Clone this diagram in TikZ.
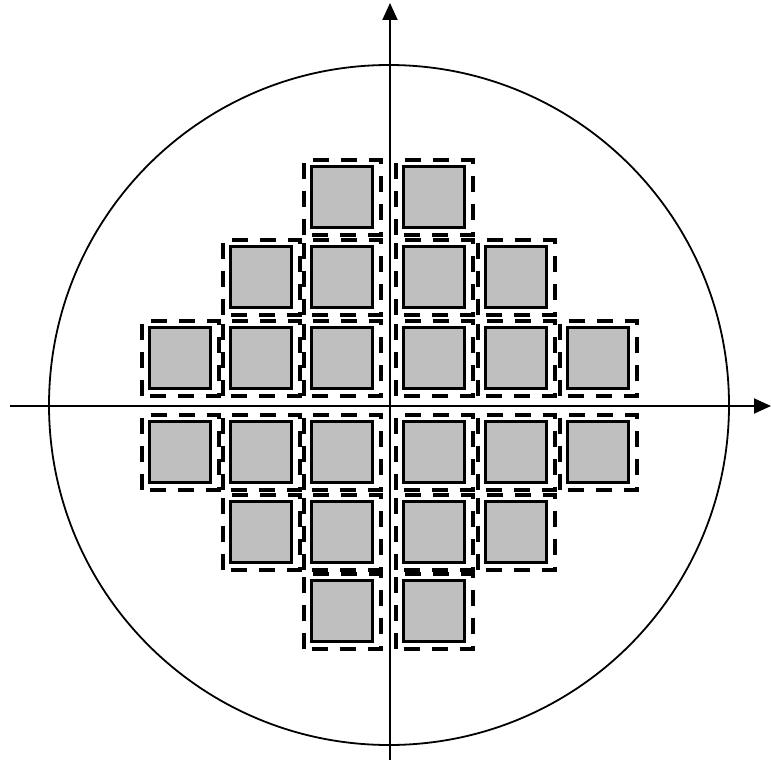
\documentclass[tikz,border=0pt]{standalone}
\usepackage{xcolor}
\usetikzlibrary{arrows.meta}

\tikzset{
  axis/.style={line width=1.9pt, -{Triangle[length=17pt,width=15pt]}},
  die/.style={draw, line width=2.2pt, fill=black!25, minimum size=61pt, inner sep=0pt},
  diebox/.style={draw, line width=4pt, dash pattern=on 16pt off 12pt, dash phase=20pt,
    minimum width=77pt, minimum height=75pt, inner sep=0pt},
}

\begin{document}
\begin{tikzpicture}[x=1pt, y=-1pt]
    \useasboundingbox (0,0) rectangle (771,760);

    % Wafer outline
    \node[draw, circle, line width=1.8pt, minimum size=680pt, inner sep=0pt] (wafer) at (389,405) {};

    % Axes
    \coordinate (xl) at (10,406);
    \coordinate (xr) at (771,406);
    \coordinate (yb) at (390,760);
    \coordinate (yt) at (390,3);
    \draw[axis] (xl) -- (xr);
    \draw[axis] (yb) -- (yt);

    % Dies with dashed frames (row / y / first column / last column)
    \foreach \r/\y/\a/\b in {1/197/3/4, 2/277/2/5, 3/358/1/6, 4/452/1/6, 5/532/2/5, 6/611/3/4} {
        \foreach \c in {\a,...,\b} {
            \pgfmathsetmacro{\x}{{180,261,342,434,516,598}[\c-1]}
            \node[die] (die-\r-\c) at (\x,\y) {};
            \node[diebox] (box-\r-\c) at (die-\r-\c.center) {};
        }
    }
\end{tikzpicture}
\end{document}
